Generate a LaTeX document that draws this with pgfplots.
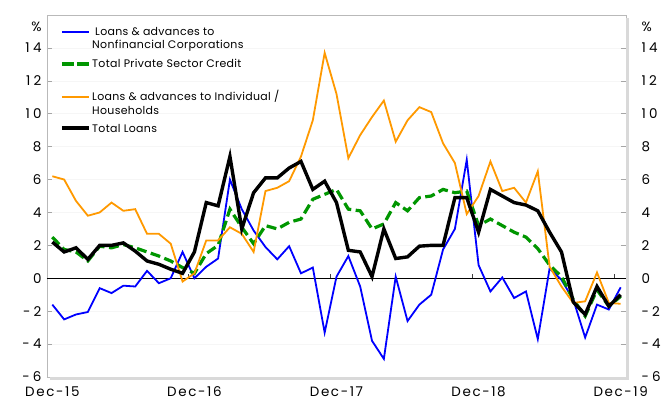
\documentclass[border=0pt]{standalone}
\usepackage{pgfplots}
\pgfplotsset{compat=1.18}
\usepackage{fontspec}
\setmainfont{Poppins}
\newfontfamily\tickfont{Poppins}[LetterSpace=12]
\newfontfamily\ytickfont{Poppins}[LetterSpace=24]
\newfontfamily\legfont{Poppins}[LetterSpace=3]
\definecolor{nfcblue}{RGB}{0,0,255}
\definecolor{pscgreen}{RGB}{0,150,0}
\definecolor{indorange}{RGB}{255,153,0}

\pgfplotstableread{
i nfc psc ind tot
0 -1.6 2.5 6.2 2.2
1 -2.5 1.75 6.0 1.6
2 -2.2 1.6 4.7 1.85
3 -2.05 1.05 3.8 1.15
4 -0.6 1.95 4.0 2.0
5 -0.9 1.85 4.6 2.0
6 -0.45 2.05 4.1 2.15
7 -0.5 1.85 4.2 1.65
8 0.45 1.6 2.7 1.05
9 -0.3 1.35 2.7 0.85
10 0.0 1.05 2.1 0.55
11 1.6 0.65 -0.2 0.3
12 0.0 0.3 0.3 1.6
13 0.7 1.5 2.3 4.6
14 1.2 2.0 2.3 4.4
15 6.0 4.2 3.1 7.4
16 4.2 3.1 2.7 3.0
17 2.9 2.1 1.6 5.2
18 1.9 3.2 5.3 6.1
19 1.15 3.0 5.5 6.1
20 1.95 3.4 5.9 6.7
21 0.3 3.6 7.4 7.1
22 0.65 4.8 9.6 5.4
23 -3.3 5.1 13.7 5.9
24 0.1 5.4 11.2 4.6
25 1.35 4.2 7.3 1.7
26 -0.5 4.1 8.7 1.6
27 -3.8 3.0 9.8 0.1
28 -4.9 3.3 10.8 3.0
29 0.1 4.6 8.3 1.2
30 -2.6 4.1 9.6 1.3
31 -1.6 4.9 10.4 1.95
32 -1.0 5.0 10.1 2.0
33 1.75 5.4 8.2 2.0
34 3.0 5.2 7.0 4.9
35 7.2 5.3 3.9 4.9
36 0.8 3.2 5.0 2.8
37 -0.8 3.6 7.1 5.4
38 0.05 3.2 5.3 5.0
39 -1.2 2.8 5.5 4.6
40 -0.8 2.5 4.6 4.45
41 -3.7 1.8 6.5 4.1
42 0.6 0.8 0.7 2.8
43 -0.1 0.1 -0.5 1.6
44 -1.3 -1.3 -1.5 -1.45
45 -3.6 -2.3 -1.4 -2.2
46 -1.6 -0.7 0.35 -0.5
47 -1.9 -1.7 -1.5 -1.7
48 -0.55 -1.1 -1.55 -1.0
}\loans

\begin{document}
\begin{tikzpicture}
\pgfplotsset{
  base/.style={
    scale only axis,
    width=579bp, height=362bp,
    xmin=-0.45, xmax=48.45,
    ymin=-6, ymax=16,
    ytick={-6,-4,...,14},
    yticklabels={-6,-4,-2,0,2,4,6,8,10,12,14},
    extra y ticks={15.3},
    extra y tick labels={\%},
    extra y tick style={grid=none, major tick length=0pt},
    xticklabel style={font=\tickfont\fontsize{13.5}{15}\selectfont},
    yticklabel style={font=\ytickfont\fontsize{13.5}{15}\selectfont},
  },
}
\begin{axis}[
  base,
  xtick={0,12,24,36,48},
  xticklabels={Dec-15,Dec-16,Dec-17,Dec-18,Dec-19},
  xtick style={draw=none},
  xticklabel style={yshift=-6bp},
  ytick pos=both,
  yticklabel pos=left,
  yticklabel style={xshift=-2bp},
  tick align=inside,
  major tick length=5bp,
  ytick style={gray!70, line width=0.6bp},
  ymajorgrids,
  grid style={gray!7, line width=0.6bp},
  axis line style={gray!55, line width=0.9bp},
  clip=false,
]
% page extent
\path ([xshift=-47bp,yshift=15bp]rel axis cs:0,1) -- ([xshift=42bp,yshift=-28bp]rel axis cs:1,0);
\draw[gray!30, line width=2.4bp]
  ([xshift=3bp,yshift=-1.6bp]rel axis cs:0,0) --
  ([xshift=1.6bp,yshift=-1.6bp]rel axis cs:1,0) --
  ([xshift=1.6bp,yshift=-3bp]rel axis cs:1,1);
\addplot[black, line width=0.8bp] coordinates {(-0.45,0) (48.45,0)};
\draw[black!75, line width=0.6bp] (axis cs:11.45,0) -- ([yshift=4bp]axis cs:11.45,0);
\draw[black!75, line width=0.6bp] (axis cs:23.45,0) -- ([yshift=4bp]axis cs:23.45,0);
\draw[black!75, line width=0.6bp] (axis cs:35.45,0) -- ([yshift=4bp]axis cs:35.45,0);
\draw[black!75, line width=0.6bp] (axis cs:47.45,0) -- ([yshift=4bp]axis cs:47.45,0);
\addplot[nfcblue, line width=1.8bp] table[x=i, y=nfc] {\loans};
\addplot[pscgreen, line width=3.2bp, dash pattern=on 10bp off 4.5bp] table[x=i, y=psc] {\loans};
\addplot[indorange, line width=1.8bp] table[x=i, y=ind] {\loans};
\addplot[black, line width=3.4bp] table[x=i, y=tot] {\loans};
% legend
\begin{scope}[every node/.style={anchor=base west, inner sep=0pt, font=\legfont\fontsize{11}{13}\selectfont}]
\draw[nfcblue, line width=1.8bp] ([xshift=15bp,yshift=-17bp]rel axis cs:0,1) -- ([xshift=42bp,yshift=-17bp]rel axis cs:0,1);
\node at ([xshift=48bp,yshift=-21bp]rel axis cs:0,1) {Loans \& advances to};
\node at ([xshift=45bp,yshift=-34bp]rel axis cs:0,1) {Nonfinancial Corporations};
\draw[pscgreen, line width=3.2bp, dash pattern=on 12bp off 3bp] ([xshift=15bp,yshift=-49bp]rel axis cs:0,1) -- ([xshift=42bp,yshift=-49bp]rel axis cs:0,1);
\node at ([xshift=45bp,yshift=-53bp]rel axis cs:0,1) {Total Private Sector Credit};
\draw[indorange, line width=1.8bp] ([xshift=15bp,yshift=-82bp]rel axis cs:0,1) -- ([xshift=42bp,yshift=-82bp]rel axis cs:0,1);
\node at ([xshift=45bp,yshift=-86bp]rel axis cs:0,1) {Loans \& advances to Individual /};
\node at ([xshift=45bp,yshift=-99bp]rel axis cs:0,1) {Households};
\draw[black, line width=3.4bp] ([xshift=15bp,yshift=-113bp]rel axis cs:0,1) -- ([xshift=42bp,yshift=-113bp]rel axis cs:0,1);
\node at ([xshift=45bp,yshift=-117bp]rel axis cs:0,1) {Total Loans};
\end{scope}
\end{axis}
\begin{axis}[
  base,
  xtick=\empty,
  axis line style={draw=none},
  ytick style={draw=none},
  yticklabel pos=right,
  yticklabel style={xshift=12bp},
]
\end{axis}
\end{tikzpicture}
\end{document}
